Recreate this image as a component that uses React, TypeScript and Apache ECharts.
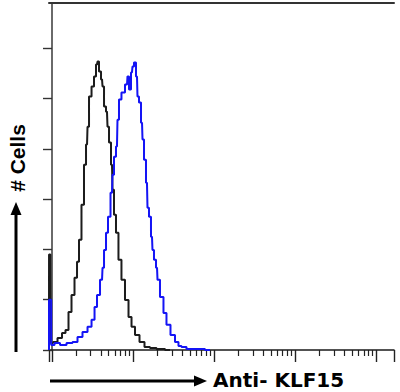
import React, { useEffect, useRef } from "react";
import * as echarts from "echarts";

// x values are in decades (log10 of fluorescence intensity), y values are cell counts
const X_MIN = -0.037;
const X_MAX = 4.217;
const Y_MAX = 138;
const DECADES = [0, 1, 2, 3, 4];
const MINOR_MULTIPLIERS = [2, 3, 4, 5, 6, 7, 8, 9];
const Y_TICKS = [0, 20, 40, 60, 80, 100, 120];

const ISOTYPE_X = [-0.037, -0.036, -0.02, -0.012, 0.037, 0.099, 0.148, 0.185, 0.222, 0.259, 0.296, 0.321, 0.345, 0.382, 0.407, 0.432, 0.444, 0.469, 0.506, 0.53, 0.555, 0.567, 0.592, 0.617, 0.629, 0.654, 0.678, 0.691, 0.715, 0.74, 0.752, 0.777, 0.801, 0.838, 0.875, 0.925, 0.962, 0.999, 1.048, 1.11, 1.171, 1.245, 1.332, 1.455];
const ISOTYPE_Y = [0, 38, 38, 2.8, 3.2, 4.8, 6.8, 8, 15.1, 21.9, 28.7, 35.1, 43.8, 57.8, 73.7, 81.7, 88.8, 100.8, 104.8, 108.8, 113.5, 114.7, 110.8, 107.6, 104.8, 96.8, 94.8, 88.8, 82.5, 73.7, 63.7, 53.8, 46.6, 35.9, 27.9, 19.9, 13.1, 9.2, 6, 3.2, 1.2, 0.8, 0.4, 0];

const KLF15_X = [-0.037, -0.036, -0.02, 0.0, 0.062, 0.136, 0.222, 0.284, 0.345, 0.407, 0.469, 0.506, 0.543, 0.567, 0.617, 0.629, 0.654, 0.678, 0.703, 0.74, 0.752, 0.777, 0.801, 0.814, 0.838, 0.875, 0.925, 0.937, 0.962, 0.986, 0.999, 1.023, 1.048, 1.06, 1.085, 1.11, 1.122, 1.147, 1.171, 1.184, 1.208, 1.233, 1.245, 1.27, 1.295, 1.307, 1.356, 1.393, 1.43, 1.492, 1.541, 1.578, 1.615, 1.702, 1.825, 1.948];
const KLF15_Y = [0, 20, 20, 2, 2.8, 2, 2.8, 3.2, 5.2, 7.2, 9.2, 12, 17.1, 21.9, 27.9, 32.7, 39.8, 46.6, 53, 62.5, 69.7, 76.9, 80.9, 91.6, 99.6, 102.4, 105.6, 108.8, 103.6, 110.4, 112.7, 114.3, 108.8, 100.8, 98.4, 90.4, 83.7, 75.7, 66.5, 56.6, 53, 45, 39.8, 35.9, 32.7, 27.9, 21.1, 14.7, 10, 6, 3.2, 1.6, 1.2, 0.4, 0.4, 0];

const X_LABEL = "Anti- KLF15";
const Y_LABEL = "# Cells";

export default function App() {
  const ref = useRef<HTMLDivElement>(null);
  useEffect(() => {
    if (!ref.current) return;
    const chart = echarts.init(ref.current, null, { renderer: "svg" });
    const minorTicks: number[] = [];
    DECADES.forEach((d) =>
      MINOR_MULTIPLIERS.forEach((m) => {
        const v = d + Math.log10(m);
        if (v <= X_MAX) minorTicks.push(v);
      })
    );
    const majorTicks = [X_MIN, ...DECADES, X_MAX];
    const pairs = (xs: number[], ys: number[]) => xs.map((x, i) => [x, ys[i]]);
    const baseX = {
      type: "value",
      min: X_MIN,
      max: X_MAX,
      gridIndex: 0,
      splitLine: { show: false },
      axisLabel: { show: false },
    };
    chart.setOption({
      animation: false,
      backgroundColor: "#ffffff",
      grid: { left: 49, right: 6, top: 3, bottom: 42 },
      xAxis: [
        {
          ...baseX,
          position: "bottom",
          axisLine: { show: true, lineStyle: { color: "#1a1a1a", width: 1.5 } },
          axisTick: { show: true, inside: false, length: 6, customValues: minorTicks, lineStyle: { color: "#222", width: 1.2 } },
        },
        {
          ...baseX,
          position: "bottom",
          axisLine: { show: false },
          axisTick: { show: true, inside: false, length: 12, customValues: majorTicks, lineStyle: { color: "#222", width: 1.4 } },
        },
        {
          ...baseX,
          position: "top",
          axisLine: { show: true, lineStyle: { color: "#333", width: 2 } },
          axisTick: { show: false },
        },
      ],
      yAxis: [
        {
          type: "value",
          min: 0,
          max: Y_MAX,
          position: "left",
          splitLine: { show: false },
          axisLabel: { show: false },
          axisLine: { show: true, lineStyle: { color: "#333", width: 1.5 } },
          axisTick: { show: true, inside: false, length: 9, customValues: Y_TICKS, lineStyle: { color: "#333", width: 1.4 } },
        },
        {
          type: "value",
          min: 0,
          max: Y_MAX,
          position: "right",
          splitLine: { show: false },
          axisLabel: { show: false },
          axisLine: { show: true, lineStyle: { color: "#6a6a6a", width: 2 } },
          axisTick: { show: false },
        },
      ],
      series: [
        {
          name: "Isotype",
          type: "line",
          xAxisIndex: 0,
          yAxisIndex: 0,
          step: "middle",
          symbol: "none",
          data: pairs(ISOTYPE_X, ISOTYPE_Y),
          lineStyle: { color: "#1c1c1c", width: 2 },
        },
        {
          name: "KLF15",
          type: "line",
          xAxisIndex: 0,
          yAxisIndex: 0,
          step: "middle",
          symbol: "none",
          data: pairs(KLF15_X, KLF15_Y),
          lineStyle: { color: "#1414f5", width: 2 },
        },
      ],
      graphic: [
        { type: "line", shape: { x1: 50, y1: 381, x2: 196, y2: 381 }, style: { stroke: "#000", lineWidth: 3 } },
        { type: "polygon", shape: { points: [[194, 375.5], [207, 381], [194, 386.5]] }, style: { fill: "#000" } },
        { type: "line", shape: { x1: 16, y1: 352, x2: 16, y2: 212 }, style: { stroke: "#000", lineWidth: 3 } },
        { type: "polygon", shape: { points: [[10.5, 215], [16, 202], [21.5, 215]] }, style: { fill: "#000" } },
        {
          type: "text",
          x: 213,
          y: 380,
          style: { text: X_LABEL, fill: "#000", font: "bold 20px 'DejaVu Sans'", align: "left", verticalAlign: "middle" },
        },
        {
          type: "text",
          x: 17,
          y: 158,
          rotation: Math.PI / 2,
          style: { text: Y_LABEL, fill: "#000", font: "bold 21px 'Liberation Sans'", align: "center", verticalAlign: "middle" },
        },
      ],
    });
    return () => chart.dispose();
  }, []);
  return <div ref={ref} style={{ position: "absolute", left: 0, top: 0, width: 400, height: 392 }} />;
}
